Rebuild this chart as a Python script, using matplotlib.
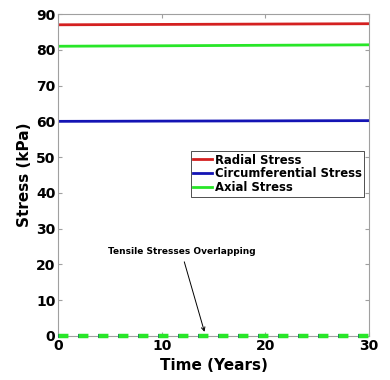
import matplotlib.pyplot as plt
import numpy as np

# stress over time
years = [0, 5, 10, 15, 20, 25, 30]
radial = [87.0, 87.05, 87.1, 87.15, 87.2, 87.25, 87.3]
circumferential = [60.0, 60.03, 60.07, 60.1, 60.13, 60.17, 60.2]
axial = [81.0, 81.07, 81.13, 81.2, 81.27, 81.33, 81.4]
# tensile stresses, all at zero
tensile = [0, 0, 0, 0, 0, 0, 0]

plt.rcParams['font.family'] = 'DejaVu Sans'
plt.rcParams['font.weight'] = 'bold'
plt.rcParams['lines.scale_dashes'] = False

fig = plt.figure(figsize=(3.9, 3.8), dpi=100)
ax = fig.add_axes([0.149, 0.116, 0.797, 0.847])

ax.plot(years, radial, color='#d42020', lw=2, label='Radial Stress')
ax.plot(years, circumferential, color='#1414b4', lw=2, label='Circumferential Stress')
ax.plot(years, axial, color='#28e628', lw=2, label='Axial Stress')
dash = (0, (6.6, 7.8))
ax.plot(years, tensile, color='#d42020', lw=2.6, ls=dash, clip_on=False, zorder=3)
ax.plot(years, tensile, color='#1414b4', lw=2.6, ls=dash, clip_on=False, zorder=3)
ax.plot(years, tensile, color='#28e628', lw=3.2, ls=(-0.3, (7.2, 7.2)), clip_on=False, zorder=3)

ax.set_xlim(0, 30)
ax.set_ylim(0, 90)
ax.set_xticks([0, 10, 20, 30])
ax.set_yticks(np.arange(0, 91, 10))
ax.tick_params(direction='in', length=3, color='#a0a0a0', labelsize=10, pad=2,
               top=True, right=True)
for lab in ax.get_xticklabels() + ax.get_yticklabels():
    lab.set_fontweight('bold')
for s in ax.spines.values():
    s.set_color('#a0a0a0')

ax.set_xlabel('Time (Years)', fontsize=11, fontweight='bold', labelpad=4)
ax.set_ylabel('Stress (kPa)', fontsize=11, fontweight='bold', labelpad=3)

ax.annotate('Tensile Stresses Overlapping', xy=(14.2, 0.4), xytext=(11.9, 23.5),
            fontsize=6.5, fontweight='bold', ha='center', va='center',
            arrowprops=dict(arrowstyle='->', color='black', lw=0.7))

leg = ax.legend(loc='upper right', bbox_to_anchor=(0.985, 0.574), fontsize=8.4,
                handlelength=1.6, handletextpad=0.3, borderpad=0.2,
                labelspacing=0.08, fancybox=False, framealpha=1, borderaxespad=0)
leg.get_frame().set_edgecolor('#333333')
leg.get_frame().set_linewidth(0.6)
for t in leg.get_texts():
    t.set_fontweight('bold')

fig.savefig('out.png', dpi=100)
